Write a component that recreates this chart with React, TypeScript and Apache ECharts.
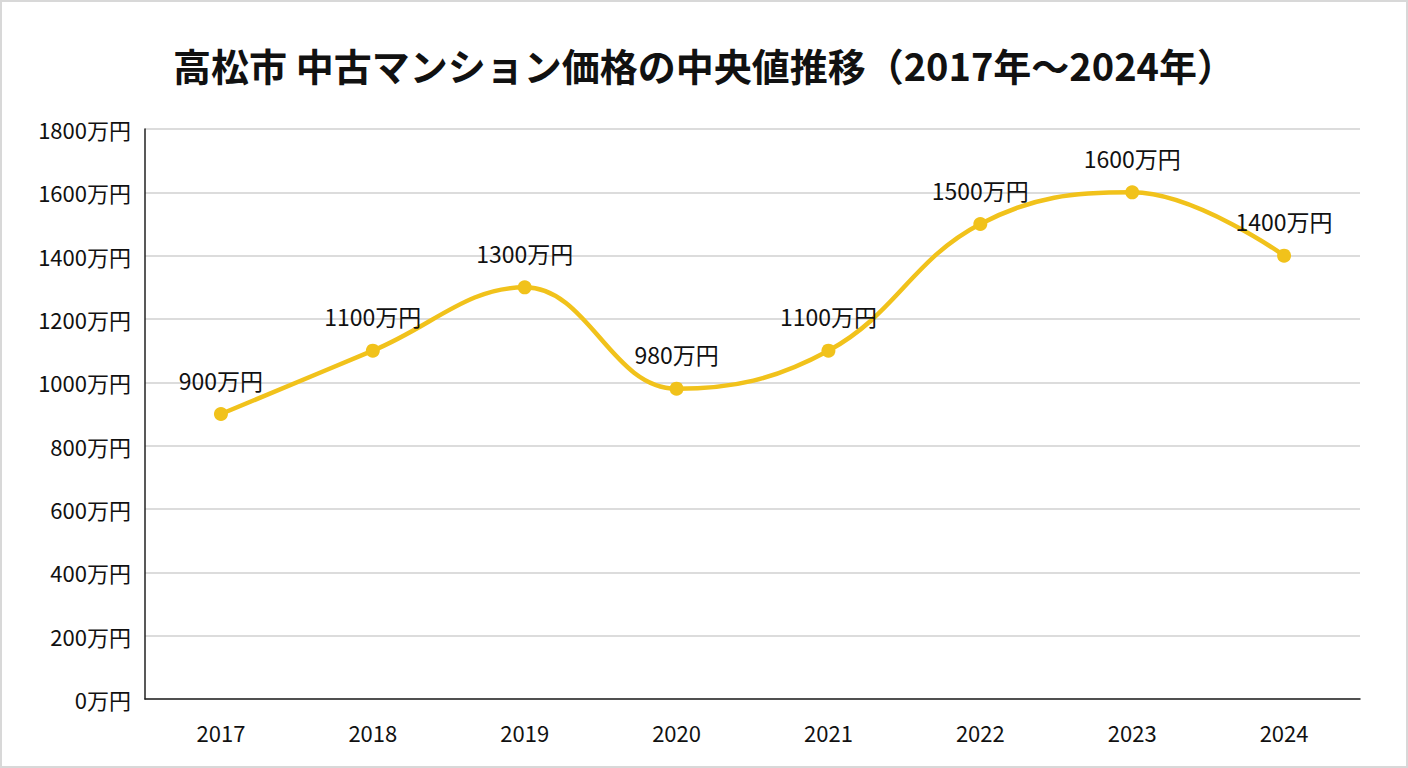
import { useEffect, useRef } from "react";
import * as echarts from "echarts";

const years = ["2017", "2018", "2019", "2020", "2021", "2022", "2023", "2024"];
const prices = [900, 1100, 1300, 980, 1100, 1500, 1600, 1400];
const titleText = "高松市 中古マンション価格の中央値推移（2017年～2024年）";

const font = "'Noto Sans CJK JP', 'Noto Sans', sans-serif";

export default function App() {
  const ref = useRef<HTMLDivElement>(null);

  useEffect(() => {
    document.body.style.margin = "0";
    if (!ref.current) return;
    const chart = echarts.init(ref.current, null, { renderer: "svg" });
    chart.setOption({
      animation: false,
      backgroundColor: "#fff",
      title: {
        text: titleText,
        left: "center",
        top: 38,
        textStyle: { fontFamily: font, fontSize: 38, fontWeight: "bold", color: "#111" },
      },
      grid: { left: 143, right: 46, top: 127, bottom: 67 },
      xAxis: {
        type: "category",
        data: years,
        boundaryGap: true,
        axisLine: { lineStyle: { color: "#222", width: 1.5 } },
        axisTick: { show: false },
        axisLabel: { color: "#111", fontFamily: font, fontSize: 22, margin: 22 },
      },
      yAxis: {
        type: "value",
        min: 0,
        max: 1800,
        interval: 200,
        axisLine: { show: true, lineStyle: { color: "#222", width: 1.5 } },
        axisTick: { show: false },
        axisLabel: {
          color: "#111",
          fontFamily: font,
          fontSize: 22,
          margin: 14,
          formatter: (v: number) => `${v}万円`,
        },
        splitLine: { lineStyle: { color: "#d0d0d0", width: 1.5 } },
      },
      series: [
        {
          type: "line",
          data: prices,
          smooth: 0.4,
          symbol: "circle",
          symbolSize: 14,
          lineStyle: { color: "#F1C21B", width: 4.5 },
          itemStyle: { color: "#F1C21B" },
          label: {
            show: true,
            position: "top",
            distance: 16,
            formatter: "{c}万円",
            fontFamily: font,
            fontSize: 23,
            color: "#111",
          },
        },
      ],
    });
    return () => chart.dispose();
  }, []);

  return (
    <div
      style={{
        width: 1408,
        height: 768,
        boxSizing: "border-box",
        border: "2px solid #d8d8d8",
      }}
    >
      <div ref={ref} style={{ width: 1404, height: 764 }} />
    </div>
  );
}
